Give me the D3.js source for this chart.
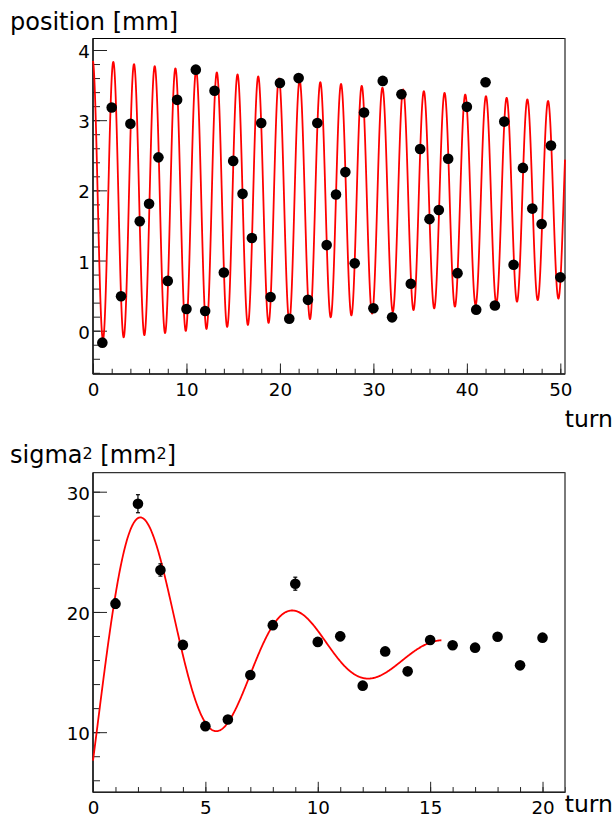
<!DOCTYPE html>
<html>
<head>
<meta charset="utf-8">
<script src="https://cdn.jsdelivr.net/npm/d3@7"></script>
<style>
  html, body { margin: 0; padding: 0; background: #fff; }
  svg { display: block; font-family: "DejaVu Sans", sans-serif; }
  .tick text { font-family: "DejaVu Sans", sans-serif; }
</style>
</head>
<body>
<svg id="chart" width="615" height="818"></svg>
<script>
// ---- Beam centroid per turn (upper panel) ----
const turnsTop = d3.range(1, 51);
const positionMm = [
  -0.17, 3.18, 0.49, 2.95, 1.56, 1.81, 2.47, 0.71, 3.29, 0.31,
   3.72, 0.28, 3.42, 0.83, 2.42, 1.95, 1.32, 2.96, 0.48, 3.53,
   0.17, 3.60, 0.44, 2.96, 1.22, 1.94, 2.26, 0.96, 3.11, 0.32,
   3.56, 0.19, 3.37, 0.67, 2.59, 1.59, 1.72, 2.45, 0.82, 3.19,
   0.30, 3.54, 0.36, 2.98, 0.94, 2.32, 1.74, 1.52, 2.64, 0.76
];
const topXTicks = [0, 10, 20, 30, 40, 50];
const topYTicks = [0, 1, 2, 3, 4];

// Fitted damped oscillation of the centroid
const posFit = { offset: 1.86, amp: 2.0, tau: 140, period: 2.215, tPeak: 2.173, tMin: 0, tMax: 50.5 };

// ---- Beam size squared per turn (lower panel) ----
const turnsBottom = d3.range(1, 21);
const sigma2 = [
  20.69, 29.0, 23.49, 17.26, 10.5, 11.05, 14.76, 18.9, 22.35, 17.51,
  17.97, 13.87, 16.72, 15.06, 17.67, 17.23, 17.03, 17.94, 15.56, 17.86
];
const sigma2Err = [
  0.40, 0.75, 0.51, 0.35, 0.30, 0.30, 0.30, 0.35, 0.54, 0.35,
  0.35, 0.30, 0.30, 0.30, 0.30, 0.30, 0.30, 0.30, 0.30, 0.30
];
const bottomXTicks = [0, 5, 10, 15, 20];
const bottomYTicks = [10, 20, 30];

// Fitted damped oscillation of sigma^2
const sigFit = { offset: 16.5, amp: 16.49, tau: 5.91, omega: 0.930, tPeak: 2.30, tMin: 0, tMax: 15.5 };

const svg = d3.select("#chart");
const FONT = "DejaVu Sans, sans-serif";

function panel(cfg) {
  const g = svg.append("g");
  const x = d3.scaleLinear().domain(cfg.xDomain).range([cfg.left, cfg.right]);
  const y = d3.scaleLinear().domain(cfg.yDomain).range([cfg.bottom, cfg.top]);

  // minor ticks
  g.append("g").attr("transform", `translate(0,${cfg.bottom})`)
    .call(d3.axisBottom(x).tickValues(cfg.xMinor).tickSize(-cfg.xTickLen / 2).tickSizeOuter(0).tickFormat(""))
    .call(a => a.select(".domain").remove());
  g.append("g").attr("transform", `translate(${cfg.left},0)`)
    .call(d3.axisLeft(y).tickValues(cfg.yMinor).tickSize(-cfg.yTickLen / 2).tickSizeOuter(0).tickFormat(""))
    .call(a => a.select(".domain").remove());

  // major ticks with labels
  const xa = g.append("g").attr("transform", `translate(0,${cfg.bottom})`)
    .call(d3.axisBottom(x).tickValues(cfg.xMajor).tickSize(-cfg.xTickLen).tickSizeOuter(0).tickPadding(9).tickFormat(d3.format("d")));
  xa.select(".domain").remove();
  xa.selectAll("text").attr("font-size", 18.3).attr("font-family", FONT).attr("fill", "#000");

  const ya = g.append("g").attr("transform", `translate(${cfg.left},0)`)
    .call(d3.axisLeft(y).tickValues(cfg.yMajor).tickSize(-cfg.yTickLen).tickSizeOuter(0).tickPadding(3).tickFormat(d3.format("d")));
  ya.select(".domain").remove();
  ya.selectAll("text").attr("font-size", 18.3).attr("font-family", FONT).attr("fill", "#000").attr("dy", "0.41em");

  g.selectAll(".tick line").attr("stroke", "#222").attr("stroke-width", 1);

  // frame
  g.append("rect")
    .attr("x", cfg.left).attr("y", cfg.top)
    .attr("width", cfg.right - cfg.left).attr("height", cfg.bottom - cfg.top)
    .attr("fill", "none").attr("stroke", "#000").attr("stroke-width", 1);
  g.append("line").attr("x1", cfg.right).attr("x2", cfg.right).attr("y1", cfg.top).attr("y2", cfg.bottom)
    .attr("stroke", "#777").attr("stroke-width", 1.2);
  g.append("line").attr("x1", cfg.left).attr("x2", cfg.left).attr("y1", cfg.top).attr("y2", cfg.bottom)
    .attr("stroke", "#222").attr("stroke-width", 1.6);
  g.append("line").attr("x1", cfg.left).attr("x2", cfg.right).attr("y1", cfg.bottom).attr("y2", cfg.bottom)
    .attr("stroke", "#222").attr("stroke-width", 1.6);

  const plot = g.append("g");
  return { g, plot, x, y };
}

// ---------------- upper panel ----------------
const P1 = panel({
  left: 93, right: 565, top: 38.5, bottom: 374,
  xDomain: [0, 50.5], yDomain: [-0.617, 4.164],
  xMajor: topXTicks, xMinor: d3.range(0, 51, 2),
  yMajor: topYTicks, yMinor: d3.range(-6, 41, 2).map(v => v / 10),
  xTickLen: 10.5, yTickLen: 14
});

const posCurve = d3.range(posFit.tMin, posFit.tMax + 1e-9, 0.01).map(t => [
  t,
  posFit.offset + posFit.amp * Math.exp(-t / posFit.tau) *
    Math.cos(2 * Math.PI * (t - posFit.tPeak) / posFit.period)
]);

P1.plot.append("path")
  .datum(posCurve)
  .attr("fill", "none").attr("stroke", "#ff0000").attr("stroke-width", 1.8)
  .attr("d", d3.line().x(d => P1.x(d[0])).y(d => P1.y(d[1])));

P1.plot.selectAll("circle.pt")
  .data(turnsTop.map((t, i) => [t, positionMm[i]]))
  .join("circle").attr("class", "pt")
  .attr("cx", d => P1.x(d[0])).attr("cy", d => P1.y(d[1]))
  .attr("r", 5.3).attr("fill", "#000");

svg.append("text").attr("x", 10).attr("y", 29.5)
  .attr("font-size", 24).attr("font-family", FONT).attr("fill", "#000")
  .text("position [mm]");
svg.append("text").attr("x", 613).attr("y", 426.5).attr("text-anchor", "end")
  .attr("font-size", 23.5).attr("font-family", FONT).attr("fill", "#000")
  .text("turn");

// ---------------- lower panel ----------------
const P2 = panel({
  left: 93, right: 565, top: 472.7, bottom: 792.3,
  xDomain: [0, 21], yDomain: [5, 31.58],
  xMajor: bottomXTicks, xMinor: d3.range(0, 22, 1),
  yMajor: bottomYTicks, yMinor: d3.range(6, 32, 2),
  xTickLen: 10.5, yTickLen: 14
});

const sigCurve = d3.range(sigFit.tMin, sigFit.tMax + 1e-9, 0.02).map(t => [
  t,
  sigFit.offset + sigFit.amp * Math.exp(-t / sigFit.tau) *
    Math.cos(sigFit.omega * (t - sigFit.tPeak))
]);

P2.plot.append("path")
  .datum(sigCurve)
  .attr("fill", "none").attr("stroke", "#ff0000").attr("stroke-width", 1.8)
  .attr("d", d3.line().x(d => P2.x(d[0])).y(d => P2.y(d[1])));

const sigPts = turnsBottom.map((t, i) => ({ t, v: sigma2[i], e: sigma2Err[i] }));

const bars = P2.plot.selectAll("g.err").data(sigPts).join("g").attr("class", "err")
  .attr("stroke", "#000").attr("stroke-width", 1.2);
bars.append("line")
  .attr("x1", d => P2.x(d.t)).attr("x2", d => P2.x(d.t))
  .attr("y1", d => P2.y(d.v - d.e)).attr("y2", d => P2.y(d.v + d.e));
bars.append("line")
  .attr("x1", d => P2.x(d.t) - 2).attr("x2", d => P2.x(d.t) + 2)
  .attr("y1", d => P2.y(d.v + d.e)).attr("y2", d => P2.y(d.v + d.e));
bars.append("line")
  .attr("x1", d => P2.x(d.t) - 2).attr("x2", d => P2.x(d.t) + 2)
  .attr("y1", d => P2.y(d.v - d.e)).attr("y2", d => P2.y(d.v - d.e));

P2.plot.selectAll("circle.pt")
  .data(sigPts)
  .join("circle").attr("class", "pt")
  .attr("cx", d => P2.x(d.t)).attr("cy", d => P2.y(d.v))
  .attr("r", 5.3).attr("fill", "#000");

const yTitle = svg.append("text").attr("x", 10).attr("y", 463.3)
  .attr("font-size", 24).attr("font-family", FONT).attr("fill", "#000");
yTitle.append("tspan").text("sigma");
yTitle.append("tspan").attr("font-size", 16).attr("dy", -4).text("2");
yTitle.append("tspan").attr("dy", 4).text(" [mm");
yTitle.append("tspan").attr("font-size", 16).attr("dy", -4).text("2");
yTitle.append("tspan").attr("dy", 4).text("]");

svg.append("text").attr("x", 613).attr("y", 812).attr("text-anchor", "end")
  .attr("font-size", 23.5).attr("font-family", FONT).attr("fill", "#000")
  .text("turn");
</script>
</body>
</html>
